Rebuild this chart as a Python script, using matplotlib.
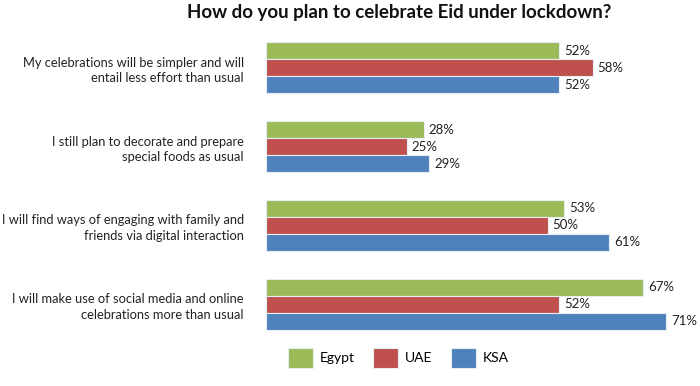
import numpy as np
import matplotlib.pyplot as plt

plt.rcParams['font.family'] = ['Lato', 'DejaVu Sans']

categories = ['My celebrations will be simpler and will\nentail less effort than usual',
              'I still plan to decorate and prepare\nspecial foods as usual',
              'I will find ways of engaging with family and\nfriends via digital interaction',
              'I will make use of social media and online\ncelebrations more than usual']
series = ['Egypt', 'UAE', 'KSA']
egypt = [52, 28, 53, 67]
uae = [58, 25, 50, 52]
ksa = [52, 29, 61, 71]
colors = ['#9BBB59', '#C0504D', '#4F81BD']

fig = plt.figure(figsize=(7, 3.86), dpi=100)
# group spacing ~78.7 px, first group centre at y=68 px
ax = fig.add_axes([266 / 700, 1 - (28.6 + 315) / 386, 1 - 266 / 700, 315 / 386])

y = np.arange(len(categories))
h = 0.216
for i, (name, vals, c) in enumerate(zip(series, [egypt, uae, ksa], colors)):
    pos = y + (i - 1) * h
    ax.barh(pos, vals, height=h, color=c, edgecolor='#e6eef5', linewidth=0.8, label=name)
    for p, v in zip(pos, vals):
        ax.text(v + 0.9, p, f'{v}%', va='center', ha='left', fontsize=9.5, color='#222222')

ax.set_xlim(0, 434 / 5.63)
ax.set_ylim(len(categories) - 0.5, -0.5)
ax.set_yticks(y)
ax.set_yticklabels(categories, fontsize=9.3, color='#222222', linespacing=1.35)
ax.tick_params(axis='y', length=0, pad=16)
ax.set_xticks([])
for s in ax.spines.values():
    s.set_visible(False)

fig.suptitle('How do you plan to celebrate Eid under lockdown?', x=0.57, y=0.99,
             fontsize=13.5, fontweight='bold', color='#111111', va='top')

fig.legend(loc='center', bbox_to_anchor=(0.569, 1 - 358 / 386), ncol=3, frameon=False,
           fontsize=10, handlelength=1.8, handleheight=1.8, columnspacing=1.3,
           handletextpad=0.5)

fig.savefig('out.png', dpi=100)
